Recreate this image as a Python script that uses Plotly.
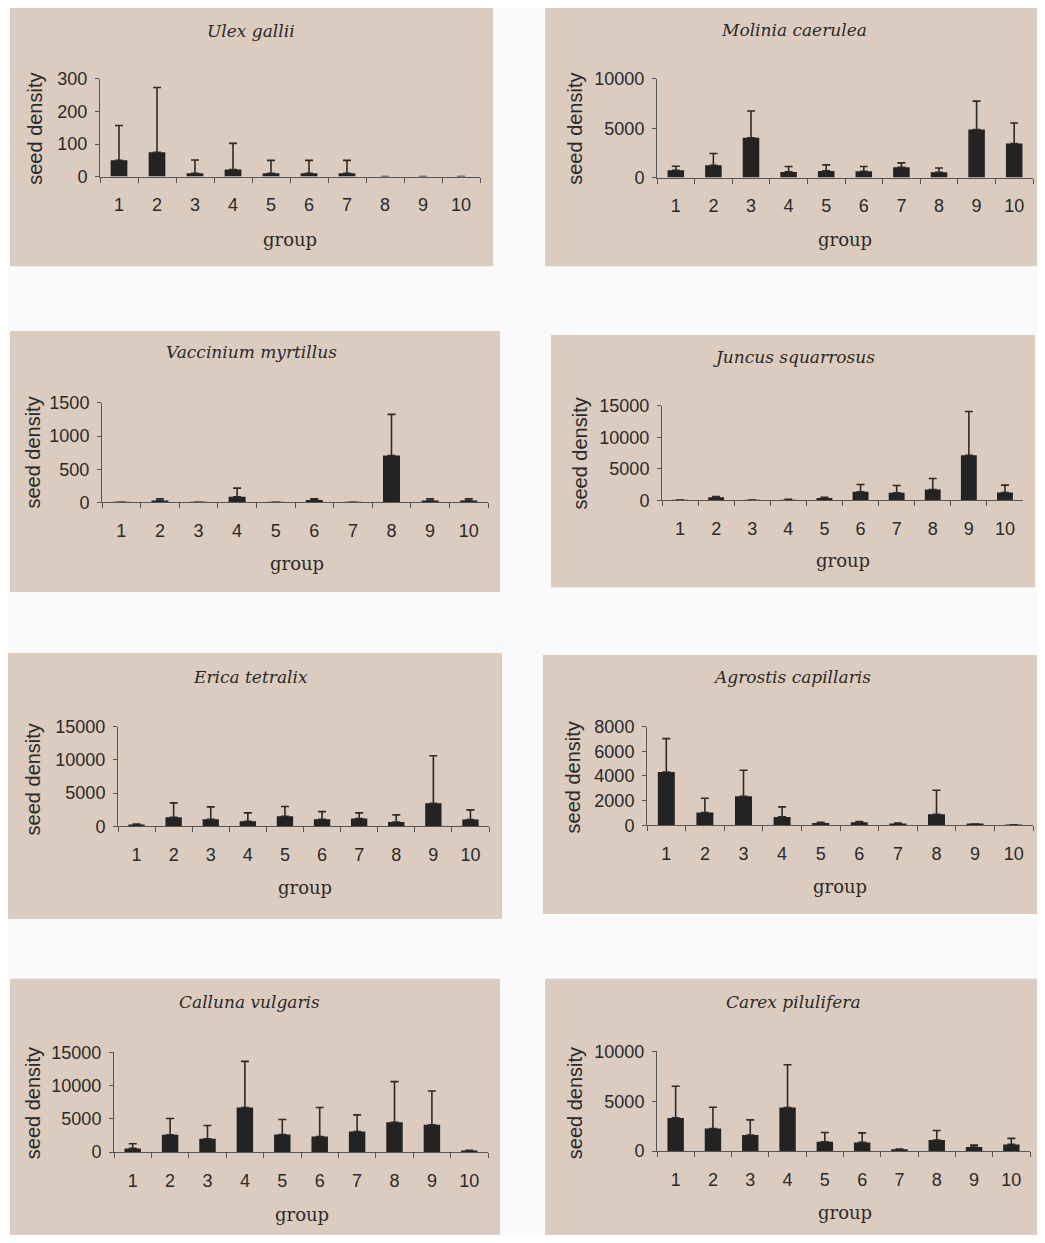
import plotly.graph_objects as go

# Figure sits inside the browser's default 8px body margin; the captured page
# is mapped onto the 1045x1243 picture with a small vertical offset/scale,
# which the helper functions below compensate for.
PAGE_W, PAGE_H = 1045, 1243
OFF = 8
W, H = PAGE_W - 2 * OFF, PAGE_H - 2 * OFF
S = 1243 / 1259.0
TOP = 16


def px(x):
    return (x - OFF) / W


def py(y):
    return 1 - (y / S - TOP) / H


groups = ["1", "2", "3", "4", "5", "6", "7", "8", "9", "10"]

species = ["Ulex gallii", "Molinia caerulea", "Vaccinium myrtillus", "Juncus squarrosus",
           "Erica tetralix", "Agrostis capillaris", "Calluna vulgaris", "Carex pilulifera"]

ulex_mean = [50, 75, 10, 22, 10, 10, 10, 0, 0, 0]
ulex_err = [107, 199, 41, 80, 40, 40, 40, 0, 0, 0]

molinia_mean = [750, 1250, 4030, 580, 680, 640, 1050, 540, 4880, 3460]
molinia_err = [400, 1190, 2720, 540, 610, 480, 440, 440, 2880, 2070]

vaccinium_mean = [3, 30, 3, 85, 3, 35, 3, 705, 30, 30]
vaccinium_err = [0, 25, 0, 130, 0, 20, 0, 620, 25, 25]

juncus_mean = [50, 520, 50, 100, 400, 1370, 1210, 1740, 7160, 1260]
juncus_err = [0, 100, 0, 100, 100, 1160, 1160, 1730, 6940, 1160]

erica_mean = [250, 1360, 1060, 755, 1510, 1060, 1160, 650, 3470, 1010]
erica_err = [100, 2160, 1860, 1255, 1460, 1150, 850, 1060, 7150, 1460]

agrostis_mean = [4320, 1030, 2350, 680, 190, 240, 135, 890, 80, 30]
agrostis_err = [2710, 1160, 2110, 810, 60, 60, 45, 1950, 20, 10]

calluna_mean = [550, 2600, 2000, 6700, 2650, 2350, 3100, 4500, 4100, 200]
calluna_err = [700, 2450, 2000, 6950, 2250, 4350, 2500, 6100, 5100, 50]

carex_mean = [3330, 2270, 1600, 4370, 930, 870, 170, 1100, 400, 670]
carex_err = [3170, 2130, 1530, 4300, 940, 960, 30, 970, 200, 600]

means = [ulex_mean, molinia_mean, vaccinium_mean, juncus_mean,
         erica_mean, agrostis_mean, calluna_mean, carex_mean]
errs = [ulex_err, molinia_err, vaccinium_err, juncus_err,
        erica_err, agrostis_err, calluna_err, carex_err]

y_max = [300, 10000, 1500, 15000, 15000, 8000, 15000, 10000]
y_dtick = [100, 5000, 500, 5000, 5000, 2000, 5000, 5000]

# layout geometry in picture pixels
boxes = [(10, 5, 493, 265), (545, 5, 1037, 265),
         (10, 330, 500, 592), (551, 334, 1035, 587),
         (3, 653, 502, 920), (543, 655, 1037, 915),
         (10, 980, 500, 1240), (545, 980, 1037, 1240)]
plots = [(100, 77, 480, 175), (657, 77, 1033, 176),
         (102, 402, 488, 502), (662, 405, 1023, 500),
         (118, 727, 489, 827), (647, 727, 1033, 826),
         (114, 1054, 488, 1154), (657, 1053, 1030, 1153)]
titles_pos = [(251, 29), (794, 28), (251, 351), (794, 356),
              (250, 677), (792, 677), (249, 1003), (793, 1003)]
ylab_pos = [(35, 127), (575, 127), (33, 452), (580, 453),
            (33, 780), (573, 778), (33, 1105), (575, 1105)]
xlab_pos = [(290, 238), (845, 238), (297, 563), (843, 560),
            (305, 888), (840, 887), (302, 1217), (845, 1215)]

PANEL = "#DCCCBF"
AX = "#555555"
TXT = "#2a2a2a"

fig = go.Figure()
shapes = []
annotations = []
layout_axes = {}

for i in range(8):
    k = "" if i == 0 else str(i + 1)
    fig.add_trace(go.Bar(
        x=groups, y=means[i], xaxis="x" + k, yaxis="y" + k,
        marker=dict(color="#232323", line=dict(width=0)),
        error_y=dict(type="data", array=errs[i], arrayminus=[0] * 10, symmetric=False,
                     color="#2a2a2a", thickness=1.6, width=4),
        showlegend=False, hoverinfo="x+y"))
    x0, y0, x1, y1 = plots[i]
    layout_axes["xaxis" + k] = dict(
        domain=[px(x0), px(x1)], anchor="y" + k, type="category",
        tickson="boundaries", ticks="outside", ticklen=5, tickcolor=AX,
        showline=True, linecolor=AX, linewidth=1, showgrid=False, zeroline=False,
        tickfont=dict(family="Liberation Sans, Arial", size=18, color=TXT),
        ticklabelstandoff=12, fixedrange=True)
    layout_axes["yaxis" + k] = dict(
        domain=[py(y1), py(y0)], anchor="x" + k,
        range=[0, y_max[i]], tickmode="linear", tick0=0, dtick=y_dtick[i],
        tickformat="d", exponentformat="none",
        ticks="outside", ticklen=4, tickcolor=AX,
        showline=True, linecolor=AX, linewidth=1, showgrid=False, zeroline=False,
        tickfont=dict(family="Liberation Sans, Arial", size=18, color=TXT),
        ticklabelstandoff=4, fixedrange=True)
    bx0, by0, bx1, by1 = boxes[i]
    shapes.append(dict(type="rect", xref="paper", yref="paper", layer="below",
                       x0=px(bx0), x1=px(bx1), y0=py(by1), y1=py(by0),
                       fillcolor=PANEL, line=dict(width=0)))
    tx, ty = titles_pos[i]
    annotations.append(dict(text="<i>" + species[i] + "</i>", xref="paper", yref="paper",
                            x=px(tx), y=py(ty), showarrow=False,
                            xanchor="center", yanchor="middle",
                            font=dict(family="DejaVu Serif", size=17, color=TXT)))
    lx, ly = ylab_pos[i]
    annotations.append(dict(text="seed density", xref="paper", yref="paper",
                            x=px(lx), y=py(ly), showarrow=False, textangle=-90,
                            xanchor="center", yanchor="middle",
                            font=dict(family="Liberation Sans, Arial", size=20, color=TXT)))
    gx, gy = xlab_pos[i]
    annotations.append(dict(text="group", xref="paper", yref="paper",
                            x=px(gx), y=py(gy), showarrow=False,
                            xanchor="center", yanchor="middle",
                            font=dict(family="DejaVu Serif", size=18, color=TXT)))

fig.update_layout(
    width=W, height=H, margin=dict(l=0, r=0, t=0, b=0),
    paper_bgcolor="#FAFAFC", plot_bgcolor="rgba(0,0,0,0)",
    bargap=0.56, shapes=shapes, annotations=annotations, **layout_axes)

fig.write_html("out.html", config={"displayModeBar": False})
